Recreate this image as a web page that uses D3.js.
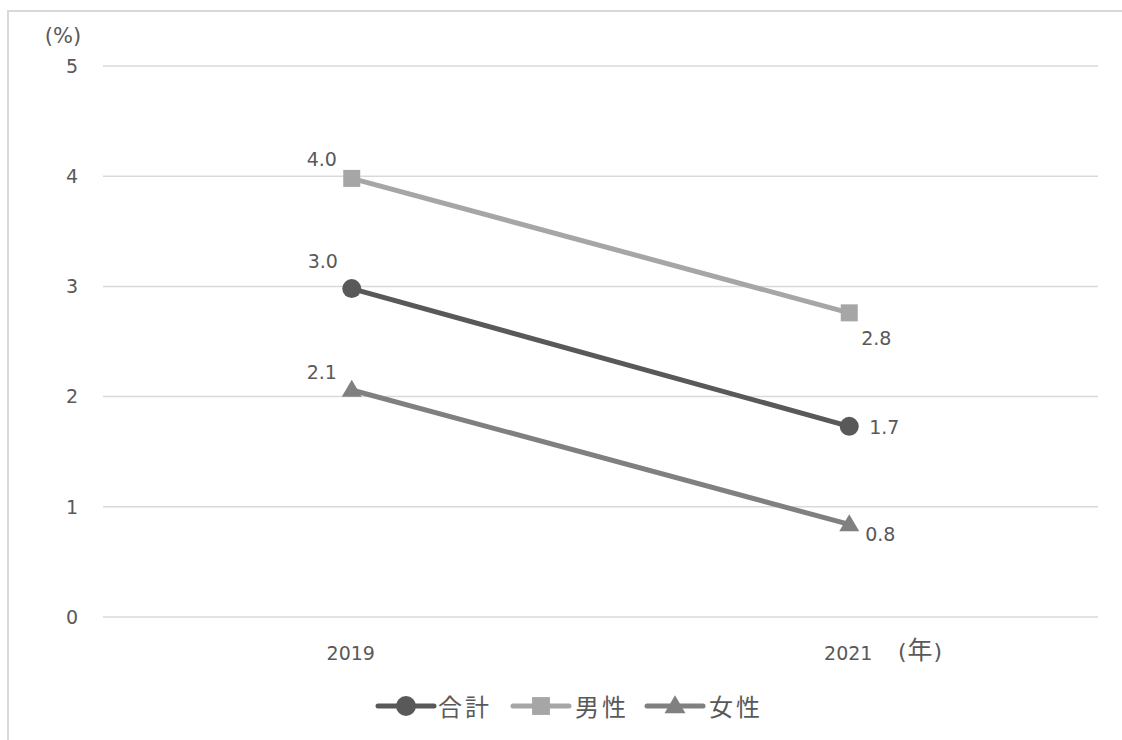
<!DOCTYPE html>
<html><head><meta charset="utf-8">
<script src="https://cdn.jsdelivr.net/npm/d3@7"></script>
<style>
html,body{margin:0;padding:0;background:#fff;}
svg text{font-family:"DejaVu Sans","Noto Sans CJK JP",sans-serif;fill:#595959;}
svg text.cjk{font-family:"Noto Sans CJK JP",sans-serif;}
</style></head>
<body>
<svg id="chart" width="1122" height="740"></svg>
<script>
const categories = ["2019", "2021"];
const seriesNames = ["合計", "男性", "女性"];
const totalValues = [2.98, 1.73];
const maleValues = [3.98, 2.76];
const femaleValues = [2.06, 0.84];
const yTicks = [0, 1, 2, 3, 4, 5];

// style: colours, markers, label offsets (dx, dy from the point)
const series = [
  {name: seriesNames[0], values: totalValues, color: "#595959", marker: "circle", offs: [[-29, -27], [35, 1]]},
  {name: seriesNames[1], values: maleValues, color: "#a6a6a6", marker: "square", offs: [[-30, -19], [27, 25]]},
  {name: seriesNames[2], values: femaleValues, color: "#808080", marker: "triangle", offs: [[-30, -18], [31, 10]]}
];

const svg = d3.select("#chart");
// outer frame
svg.append("rect").attr("x", 8).attr("y", 11).attr("width", 1130).attr("height", 740)
  .attr("fill", "none").attr("stroke", "#d9d9d9").attr("stroke-width", 2);

const plot = {left: 103, right: 1098, top: 66, bottom: 617};
const x = d3.scalePoint().domain(categories).range([plot.left, plot.right]).padding(0.5);
const y = d3.scaleLinear().domain([0, 5]).range([plot.bottom, plot.top]);

// gridlines
svg.append("g").selectAll("line").data(yTicks).join("line")
  .attr("x1", plot.left).attr("x2", plot.right)
  .attr("y1", d => y(d)).attr("y2", d => y(d))
  .attr("stroke", "#d9d9d9").attr("stroke-width", 1.5);

// y tick labels
svg.append("g").selectAll("text").data(yTicks).join("text")
  .attr("x", 78).attr("y", d => y(d)).attr("dy", "0.36em")
  .attr("text-anchor", "end").attr("font-size", 19).text(d => d);

svg.append("text").attr("x", 63).attr("y", 35).attr("dy", "0.36em")
  .attr("text-anchor", "middle").attr("font-size", 21).text("(%)");

// x labels
svg.append("g").selectAll("text").data(categories).join("text")
  .attr("x", d => x(d) - 1).attr("y", 653).attr("dy", "0.36em")
  .attr("text-anchor", "middle").attr("font-size", 19).text(d => d);
const unit = svg.append("text").attr("x", 898).attr("y", 651).attr("dy", "0.36em").attr("font-size", 22);
unit.append("tspan").text("(");
unit.append("tspan").attr("font-family", "Noto Sans CJK JP").attr("font-size", 25).attr("dx", 1).text("年");
unit.append("tspan").attr("dx", 1).text(")");

const line = d3.line().x((d, i) => x(categories[i])).y(d => y(d));

function drawMarker(g, type, cx, cy, color, scale) {
  const s = scale || 1;
  if (type === "circle") {
    g.append("circle").attr("cx", cx).attr("cy", cy).attr("r", 9.5 * s).attr("fill", color);
  } else if (type === "square") {
    g.append("rect").attr("x", cx - 8.5 * s).attr("y", cy - 8.5 * s)
      .attr("width", 17 * s).attr("height", 17 * s).attr("fill", color);
  } else {
    const h = 17 * s, w = 20 * s;
    g.append("path").attr("d", `M${cx},${cy - h * 0.6}L${cx + w / 2},${cy + h * 0.4}L${cx - w / 2},${cy + h * 0.4}Z`)
      .attr("fill", color);
  }
}

const fmt = d3.format(".1f");
series.forEach(s => {
  const g = svg.append("g");
  g.append("path").datum(s.values).attr("d", line)
    .attr("fill", "none").attr("stroke", s.color).attr("stroke-width", 5);
  s.values.forEach((v, i) => {
    const cx = x(categories[i]), cy = y(v);
    drawMarker(g, s.marker, cx, cy, s.color);
    g.append("text").attr("x", cx + s.offs[i][0]).attr("y", cy + s.offs[i][1]).attr("dy", "0.36em")
      .attr("text-anchor", "middle").attr("font-size", 19).text(fmt(v));
  });
});

// legend
const legendItems = [
  {s: series[0], x0: 378, tx: 438},
  {s: series[1], x0: 513, tx: 575},
  {s: series[2], x0: 647, tx: 709}
];
const ly = 706;
legendItems.forEach(it => {
  const g = svg.append("g");
  g.append("line").attr("x1", it.x0).attr("x2", it.x0 + 56).attr("y1", ly).attr("y2", ly)
    .attr("stroke", it.s.color).attr("stroke-width", 5).attr("stroke-linecap", "round");
  drawMarker(g, it.s.marker, it.x0 + 28, ly, it.s.color, 1.05);
  g.append("text").attr("class", "cjk").attr("x", it.tx).attr("y", ly + 1).attr("dy", "0.36em")
    .attr("font-size", 24).attr("letter-spacing", 3).text(it.s.name);
});
</script>
</body></html>
